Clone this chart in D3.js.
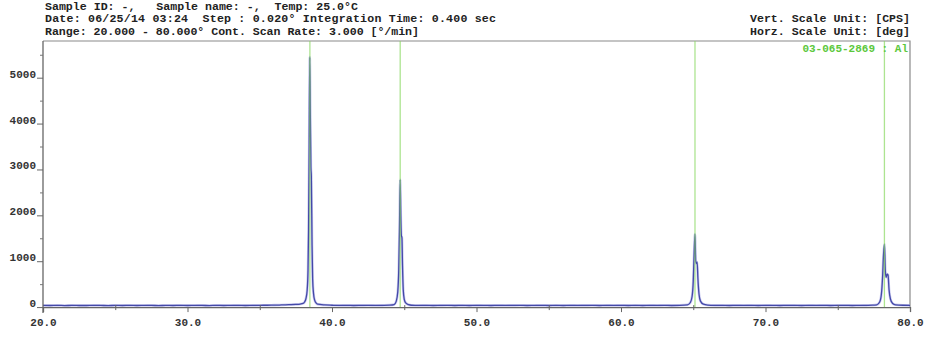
<!DOCTYPE html>
<html>
<head>
<meta charset="utf-8">
<script src="https://cdn.jsdelivr.net/npm/d3@7"></script>
<style>
  body { margin: 0; background: #fff; }
  svg text { font-family: "Liberation Mono", "DejaVu Sans Mono", monospace; font-weight: bold; }
</style>
</head>
<body>
<svg id="chart" width="932" height="337"></svg>
<script>
// header text
var headerLeft = [
  'Sample ID: -,   Sample name: -,  Temp: 25.0\u00b0C',
  'Date: 06/25/14 03:24  Step : 0.020\u00b0 Integration Time: 0.400 sec',
  'Range: 20.000 - 80.000\u00b0 Cont. Scan Rate: 3.000 [\u00b0/min]'
]
var headerWidths = [313, 451, 374]
var headerRight = ['Vert. Scale Unit: [CPS]', 'Horz. Scale Unit: [deg]']

var twoTheta = [
  20.0, 20.5, 21.0, 21.5, 22.0, 22.5, 23.0, 23.5, 24.0, 24.5, 25.0, 25.5, 26.0, 26.5, 27.0, 27.5,
  28.0, 28.5, 29.0, 29.5, 30.0, 30.5, 31.0, 31.5, 32.0, 32.5, 33.0, 33.5, 34.0, 34.5, 35.0, 35.5,
  36.0, 36.5, 37.0, 37.5, 37.8, 38.0, 38.1, 38.2, 38.28, 38.34, 38.38, 38.42, 38.46, 38.5, 38.54,
  38.57, 38.62, 38.66, 38.72, 38.8, 38.9, 39.0, 39.5, 40.0, 40.5, 41.0, 41.5, 42.0, 42.5, 43.0,
  43.5, 44.0, 44.3, 44.45, 44.55, 44.62, 44.67, 44.72, 44.76, 44.8, 44.84, 44.88, 44.93, 45.0,
  45.1, 45.3, 45.5, 46.0, 46.5, 47.0, 47.5, 48.0, 48.5, 49.0, 49.5, 50.0, 50.5, 51.0, 51.5, 52.0,
  52.5, 53.0, 53.5, 54.0, 54.5, 55.0, 55.5, 56.0, 56.5, 57.0, 57.5, 58.0, 58.5, 59.0, 59.5, 60.0,
  60.5, 61.0, 61.5, 62.0, 62.5, 63.0, 63.5, 64.0, 64.6, 64.8, 64.92, 65.0, 65.06, 65.12, 65.17,
  65.22, 65.27, 65.32, 65.4, 65.5, 65.7, 66.0, 66.5, 67.0, 67.5, 68.0, 68.5, 69.0, 69.5, 70.0,
  70.5, 71.0, 71.5, 72.0, 72.5, 73.0, 73.5, 74.0, 74.5, 75.0, 75.5, 76.0, 76.5, 77.0, 77.4, 77.7,
  77.9, 78.02, 78.1, 78.17, 78.23, 78.29, 78.35, 78.42, 78.48, 78.55, 78.65, 78.8, 79.0, 79.5, 80.0
]
var counts = [
  36, 34, 38, 33, 37, 35, 34, 38, 36, 33, 37, 35, 38, 34, 36, 37,
  33, 36, 35, 38, 34, 36, 37, 33, 38, 35, 36, 38, 34, 37, 39, 40,
  42, 46, 52, 58, 66, 80, 110, 190, 360, 800, 1700, 3500, 5450, 4200, 3050,
  2850, 1350, 620, 300, 150, 90, 62, 46, 40, 36, 38, 35, 37, 39, 36,
  38, 42, 55, 130, 330, 820, 1700, 2780, 2000, 1560, 1510, 900, 380, 170,
  90, 52, 40, 36, 38, 34, 37, 39, 35, 38, 34, 37, 36, 35, 38, 36,
  37, 39, 34, 36, 38, 35, 37, 34, 38, 36, 37, 39, 35, 37, 36, 38,
  35, 37, 34, 38, 36, 39, 35, 38, 50, 100, 230, 560, 1150, 1590, 1000,
  950, 980, 640, 280, 130, 64, 44, 38, 37, 35, 38, 36, 37, 34, 38,
  36, 35, 38, 37, 34, 37, 36, 38, 35, 37, 38, 35, 36, 38, 41, 50,
  110, 280, 640, 1150, 1370, 800, 650, 720, 700, 380, 170, 78, 50, 40, 38
]

// reference card 03-065-2869 (Al) line positions
var refLines = [38.47, 44.72, 65.12, 78.23]
var refLabel = '03-065-2869 : Al'

var xTicks = [20, 30, 40, 50, 60, 70, 80]
var yTicks = [0, 1000, 2000, 3000, 4000, 5000]

var svg = d3.select('#chart')
var margin = { left: 43, right: 22, top: 41, bottom: 29 }
var width = 932 - margin.left - margin.right
var height = 337 - margin.top - margin.bottom

var x = d3.scaleLinear().domain([20, 80]).range([margin.left, margin.left + width])
var y = d3.scaleLinear().domain([-20, 5800]).range([margin.top + height, margin.top])

// header
svg.selectAll('.hl')
  .data(headerLeft)
  .enter()
  .append('text')
  .attr('class', 'hl')
  .attr('x', 45)
  .attr('y', function (d, i) { return 10 + i * 12.3 })
  .attr('font-size', 11.6)
  .attr('fill', '#222')
  .attr('textLength', function (d, i) { return headerWidths[i] })
  .attr('lengthAdjust', 'spacing')
  .style('white-space', 'pre')
  .text(function (d) { return d })

svg.selectAll('.hr')
  .data(headerRight)
  .enter()
  .append('text')
  .attr('class', 'hr')
  .attr('x', 910)
  .attr('y', function (d, i) { return 22.3 + i * 12.3 })
  .attr('text-anchor', 'end')
  .attr('font-size', 11.6)
  .attr('fill', '#222')
  .text(function (d) { return d })

// frame (top and right)
svg.append('path')
  .attr('d', 'M' + x(20) + ',' + margin.top + 'H' + x(80) + 'V' + y(0))
  .attr('fill', 'none')
  .attr('stroke', '#8a8a8a')
  .attr('stroke-width', 1.2)

// pattern line
var line = d3.line()
  .x(function (d, i) { return x(twoTheta[i]) })
  .y(function (d) { return y(d) })
  .curve(d3.curveMonotoneX)

// soft halo, then the trace
svg.append('path')
  .datum(counts)
  .attr('d', line)
  .attr('fill', 'none')
  .attr('stroke', '#a9aae6')
  .attr('stroke-width', 2.6)
  .attr('stroke-opacity', 0.6)

svg.append('path')
  .datum(counts)
  .attr('d', line)
  .attr('fill', 'none')
  .attr('stroke', '#4449a8')
  .attr('stroke-width', 1.3)

// reference lines on top
svg.selectAll('.ref')
  .data(refLines)
  .enter()
  .append('line')
  .attr('class', 'ref')
  .attr('x1', function (d) { return x(d) })
  .attr('x2', function (d) { return x(d) })
  .attr('y1', y(0))
  .attr('y2', margin.top)
  .attr('stroke', '#8ad862')
  .attr('stroke-opacity', 0.7)
  .attr('stroke-width', 1.3)

svg.append('text')
  .attr('x', 908)
  .attr('y', 52)
  .attr('text-anchor', 'end')
  .attr('font-size', 11)
  .attr('fill', '#5cc83c')
  .style('white-space', 'pre')
  .text(refLabel)

// axes
var xAxis = d3.axisBottom(x).tickValues(xTicks).tickSize(5).tickFormat(d3.format('.1f'))
var gx = svg.append('g').attr('transform', 'translate(0,' + y(0) + ')').call(xAxis)
gx.select('.domain').attr('stroke', '#666').attr('stroke-width', 1.3)
gx.selectAll('.tick line').attr('stroke', '#666')
gx.selectAll('.tick text').attr('font-size', 11).attr('fill', '#333').attr('dy', '0.95em')

var gxm = svg.append('g').attr('transform', 'translate(0,' + y(0) + ')')
  .call(d3.axisBottom(x).tickValues([25, 35, 45, 55, 65, 75]).tickSize(3).tickFormat(''))
gxm.select('.domain').remove()
gxm.selectAll('.tick line').attr('stroke', '#666').attr('y1', -2)

var yAxis = d3.axisLeft(y).tickValues(yTicks).tickSize(6).tickFormat(d3.format('d'))
var gy = svg.append('g').attr('transform', 'translate(' + x(20) + ',0)').call(yAxis)
gy.select('.domain').attr('d', 'M0,' + margin.top + 'V' + (y(0) + 6)).attr('stroke', '#666').attr('stroke-width', 1.3)
gy.selectAll('.tick line').attr('stroke', '#666')
gy.selectAll('.tick text').attr('font-size', 11).attr('fill', '#333').attr('x', -7).attr('dy', '-0.05em')

var gym = svg.append('g').attr('transform', 'translate(' + x(20) + ',0)')
  .call(d3.axisLeft(y).tickValues([500, 1500, 2500, 3500, 4500, 5500]).tickSize(3).tickFormat(''))
gym.select('.domain').remove()
gym.selectAll('.tick line').attr('stroke', '#777')
</script>
</body>
</html>
